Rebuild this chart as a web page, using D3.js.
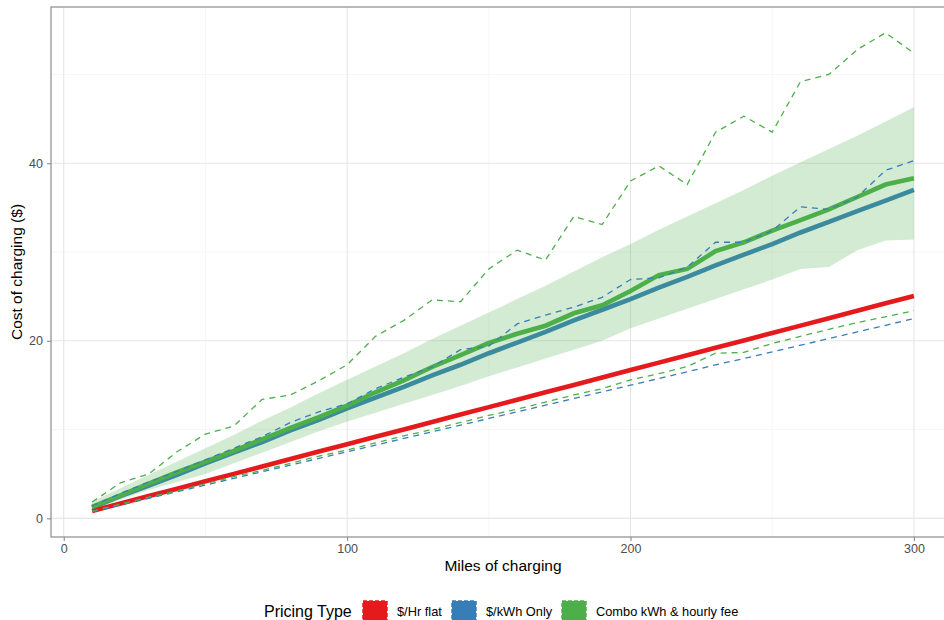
<!DOCTYPE html>
<html>
<head>
<meta charset="utf-8">
<script src="https://cdn.jsdelivr.net/npm/d3@7"></script>
<style>
  body { margin: 0; background: #fff; }
  svg { display: block; font-family: "Liberation Sans", Arial, sans-serif; }
</style>
</head>
<body>
<div id="chart"></div>
<script>
// miles on x axis
const miles = [10, 20, 30, 40, 50, 60, 70, 80, 90, 100, 110, 120, 130, 140, 150,
  160, 170, 180, 190, 200, 210, 220, 230, 240, 250, 260, 270, 280, 290, 300];

// $/Hr flat
const hrFlat = [0.84, 1.67, 2.51, 3.34, 4.18, 5.01, 5.85, 6.68, 7.52, 8.35, 9.19, 10.02, 10.86, 11.69, 12.53,
  13.36, 14.2, 15.03, 15.87, 16.7, 17.54, 18.37, 19.21, 20.04, 20.88, 21.71, 22.55, 23.38, 24.22, 25.05];

// $/kWh Only (mean + dashed bounds)
const kwhOnly = [1.2, 2.5, 3.7, 4.9, 6.2, 7.4, 8.6, 9.9, 11.1, 12.4, 13.6, 14.8, 16.1, 17.3, 18.6,
  19.8, 21.0, 22.3, 23.5, 24.7, 26.0, 27.2, 28.5, 29.7, 30.9, 32.2, 33.4, 34.6, 35.8, 37.0];
const kwhHigh = [1.4, 2.8, 4.1, 5.3, 6.6, 7.9, 9.2, 10.8, 12.0, 12.9, 14.6, 15.9, 17.05, 19.0, 19.4,
  21.9, 22.9, 23.8, 24.9, 26.9, 27.1, 28.3, 31.1, 31.1, 32.4, 35.1, 34.8, 36.2, 39.2, 40.3];
const kwhLow = [0.75, 1.5, 2.25, 3.0, 3.75, 4.5, 5.25, 6.0, 6.75, 7.5, 8.25, 9.0, 9.75, 10.5, 11.25,
  12.0, 12.75, 13.5, 14.25, 15.0, 15.75, 16.5, 17.3, 18.0, 18.75, 19.5, 20.25, 21.0, 21.75, 22.5];

// Combo kWh & hourly fee (mean, ribbon, dashed bounds)
const combo = [1.3, 2.6, 3.9, 5.2, 6.4, 7.6, 8.9, 10.2, 11.4, 12.7, 14.2, 15.55, 17.05, 18.4, 19.75,
  20.8, 21.7, 23.1, 24.0, 25.6, 27.4, 28.1, 30.1, 31.1, 32.4, 33.6, 34.8, 36.2, 37.6, 38.3];
const comboBandLow = [1.0, 2.1, 3.2, 4.1, 5.0, 6.2, 7.4, 8.6, 9.8, 10.9, 11.9, 12.9, 13.9, 14.9, 16.0,
  17.0, 18.0, 19.0, 20.0, 21.4, 22.5, 23.6, 24.7, 25.8, 26.9, 28.1, 28.3, 30.2, 31.3, 31.4];
const comboBandHigh = [1.9, 3.4, 4.9, 6.4, 7.9, 9.4, 11.0, 12.5, 14.1, 15.6, 17.1, 18.6, 20.2, 21.7, 23.2,
  24.7, 26.2, 27.8, 29.4, 30.9, 32.5, 34.0, 35.5, 37.0, 38.6, 40.1, 41.6, 43.1, 44.7, 46.3];
const comboHigh = [1.84, 4.0, 5.0, 7.5, 9.5, 10.4, 13.4, 13.9, 15.5, 17.3, 20.5, 22.3, 24.6, 24.4, 28.1,
  30.2, 29.1, 34.0, 33.1, 38.0, 39.7, 37.6, 43.5, 45.3, 43.5, 49.2, 50.0, 52.8, 54.7, 52.4];
const comboLow = [0.8, 1.6, 2.4, 3.1, 3.9, 4.7, 5.4, 6.2, 7.0, 7.7, 8.5, 9.3, 10.0, 10.8, 11.6,
  12.3, 13.1, 13.9, 14.6, 15.6, 16.3, 17.1, 18.6, 18.7, 19.7, 20.5, 21.3, 22.05, 22.7, 23.4];

const seriesNames = ["$/Hr flat", "$/kWh Only", "Combo kWh & hourly fee"];
const seriesColors = ["#E41A1C", "#377EB8", "#4DAF4A"];

const xTicks = [0, 100, 200, 300];
const xMinor = [50, 150, 250];
const yTicks = [0, 20, 40];
const yMinor = [10, 30, 50];

const width = 944, height = 620;
const panel = { left: 51, right: 955, top: 7, bottom: 537 };

const svg = d3.select("#chart").append("svg")
  .attr("width", width)
  .attr("height", height);

const x = d3.scaleLinear().domain([-4.5, 314.5]).range([panel.left, panel.right]);
const y = d3.scaleLinear().domain([-2.1, 57.6]).range([panel.bottom, panel.top]);

// grid
const grid = svg.append("g");
grid.selectAll(".xminor").data(xMinor).enter().append("line")
  .attr("x1", d => x(d)).attr("x2", d => x(d))
  .attr("y1", panel.top).attr("y2", panel.bottom)
  .attr("stroke", "#f2f2f2").attr("stroke-width", 0.7);
grid.selectAll(".yminor").data(yMinor).enter().append("line")
  .attr("x1", panel.left).attr("x2", panel.right)
  .attr("y1", d => y(d)).attr("y2", d => y(d))
  .attr("stroke", "#f2f2f2").attr("stroke-width", 0.7);
grid.selectAll(".xmajor").data(xTicks).enter().append("line")
  .attr("x1", d => x(d)).attr("x2", d => x(d))
  .attr("y1", panel.top).attr("y2", panel.bottom)
  .attr("stroke", "#e6e6e6").attr("stroke-width", 1.1);
grid.selectAll(".ymajor").data(yTicks).enter().append("line")
  .attr("x1", panel.left).attr("x2", panel.right)
  .attr("y1", d => y(d)).attr("y2", d => y(d))
  .attr("stroke", "#e6e6e6").attr("stroke-width", 1.1);

const line = vals => d3.line()
  .x((d, i) => x(miles[i]))
  .y(d => y(d))(vals);

const plot = svg.append("g");

// solid mean lines under the ribbon
plot.append("path").attr("d", line(kwhOnly))
  .attr("fill", "none").attr("stroke", seriesColors[1]).attr("stroke-width", 4.6);
plot.append("path").attr("d", line(hrFlat))
  .attr("fill", "none").attr("stroke", seriesColors[0]).attr("stroke-width", 4.6);

// combo ribbon
const area = d3.area()
  .x((d, i) => x(miles[i]))
  .y0((d, i) => y(comboBandLow[i]))
  .y1(d => y(d));
plot.append("path").attr("d", area(comboBandHigh))
  .attr("fill", seriesColors[2]).attr("fill-opacity", 0.25);

plot.append("path").attr("d", line(combo))
  .attr("fill", "none").attr("stroke", seriesColors[2]).attr("stroke-width", 4.6);

// dashed bounds
[[kwhHigh, 1], [kwhLow, 1], [comboHigh, 2], [comboLow, 2]].forEach(([vals, c]) => {
  plot.append("path").attr("d", line(vals))
    .attr("fill", "none").attr("stroke", seriesColors[c])
    .attr("stroke-width", 1.3).attr("stroke-dasharray", "6,5");
});

// panel border
svg.append("rect")
  .attr("x", panel.left).attr("y", panel.top)
  .attr("width", panel.right - panel.left).attr("height", panel.bottom - panel.top)
  .attr("fill", "none").attr("stroke", "#8c8c8c").attr("stroke-width", 1.2);

// axes
const xAxis = svg.append("g")
  .attr("transform", "translate(0," + panel.bottom + ")")
  .call(d3.axisBottom(x).tickValues(xTicks).tickSize(4).tickPadding(3).tickFormat(d3.format("d")));
const yAxis = svg.append("g")
  .attr("transform", "translate(" + panel.left + ",0)")
  .call(d3.axisLeft(y).tickValues(yTicks).tickSize(4).tickPadding(4).tickFormat(d3.format("d")));
[xAxis, yAxis].forEach(a => {
  a.select(".domain").remove();
  a.selectAll("line").attr("stroke", "#8c8c8c").attr("stroke-width", 1.1);
  a.selectAll("text").attr("fill", "#4d4d4d").style("font-size", "12.5px")
    .style("font-family", "'Liberation Sans', Arial, sans-serif");
});

// axis titles
svg.append("text")
  .attr("x", (panel.left + panel.right) / 2).attr("y", 571)
  .attr("text-anchor", "middle").style("font-size", "15.5px")
  .text("Miles of charging");
svg.append("text")
  .attr("transform", "translate(22," + (panel.top + panel.bottom) / 2 + ") rotate(-90)")
  .attr("text-anchor", "middle").style("font-size", "15.5px")
  .text("Cost of charging ($)");

// legend
const legend = svg.append("g");
legend.append("text").attr("x", 264).attr("y", 617)
  .style("font-size", "16px").text("Pricing Type");
const keyX = [363, 452, 562];
seriesNames.forEach((name, i) => {
  legend.append("rect")
    .attr("x", keyX[i]).attr("y", 601).attr("width", 24).attr("height", 24)
    .attr("fill", seriesColors[i]).attr("stroke", seriesColors[i])
    .attr("stroke-width", 1.5).attr("stroke-dasharray", "4,2");
  legend.append("text").attr("x", keyX[i] + 34).attr("y", 616)
    .style("font-size", "12.8px").text(name);
});
</script>
</body>
</html>
